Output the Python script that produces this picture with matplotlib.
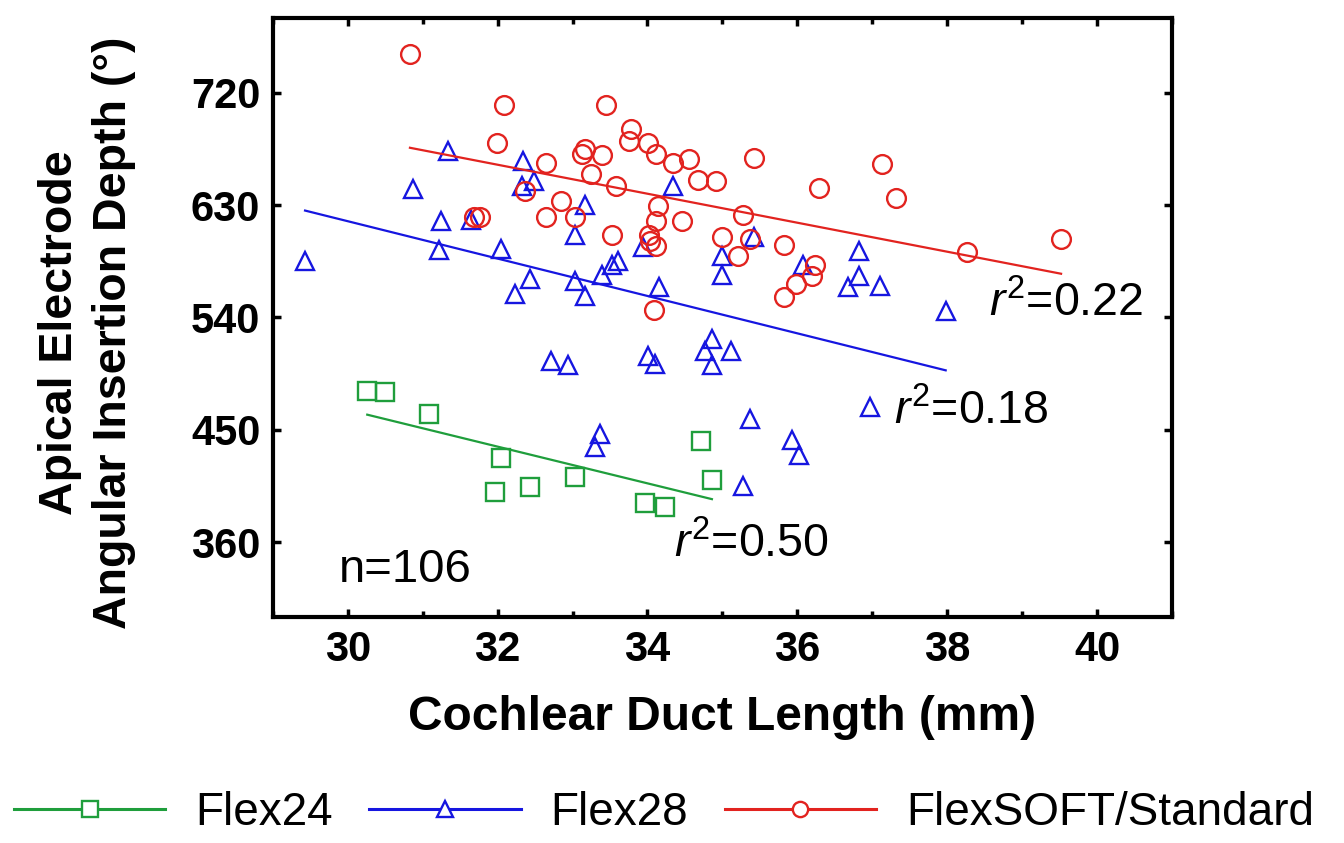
import matplotlib
matplotlib.use("Agg")
import matplotlib.pyplot as plt
from matplotlib.lines import Line2D
from matplotlib.ticker import MultipleLocator
import numpy as np

plt.rcParams["font.family"] = ["Liberation Sans", "DejaVu Sans"]
plt.rcParams["mathtext.fontset"] = "custom"
plt.rcParams["mathtext.rm"] = "Liberation Sans"
plt.rcParams["mathtext.it"] = "Liberation Sans:italic"

C_GREEN = "#1f9e3c"
C_BLUE = "#1616e0"
C_RED = "#e2231f"

# ── data ──
flex24_cdl = [30.26, 30.50, 31.09, 32.05, 31.97, 32.43, 33.03, 33.97, 34.24, 34.71, 34.86]
flex24_aid = [481, 480, 463, 427, 400, 404, 412, 391, 388, 441, 410]

flex28_cdl = [31.34, 32.34, 32.48, 32.33, 30.87, 34.34, 31.25, 31.64, 33.17, 33.03,
              29.43, 31.22, 32.05, 33.94, 32.43, 32.23, 33.03, 33.16, 33.39, 33.53,
              33.60, 34.15, 34.99, 34.99, 35.42, 36.07, 36.82, 36.82, 36.68, 37.10,
              37.98, 32.71, 32.94, 34.01, 34.10, 34.86, 34.77, 34.86, 35.12, 36.97,
              35.37, 35.93, 36.02, 35.28, 33.36, 33.30]
flex28_aid = [673, 665, 649, 645, 643, 645, 617, 618, 630, 606,
              585, 594, 595, 596, 571, 559, 569, 557, 574, 582,
              585, 564, 589, 574, 604, 582, 593, 573, 564, 565,
              545, 505, 502, 509, 503, 523, 513, 502, 513, 468,
              459, 442, 430, 405, 447, 436]

soft_cdl = [30.83, 32.08, 33.44, 31.99, 33.78, 33.75, 34.01, 34.11, 33.16, 33.13,
            33.39, 34.34, 34.56, 32.65, 33.25, 33.58, 34.68, 34.91, 32.36, 32.84,
            34.14, 31.68, 31.77, 32.65, 33.03, 34.11, 34.46, 33.53, 34.02, 34.03,
            34.11, 34.09, 34.99, 35.42, 36.29, 37.13, 37.32, 35.28, 39.52, 38.27,
            35.37, 35.82, 35.21, 36.24, 36.20, 35.98, 35.82]
soft_aid = [751, 710, 710, 680, 691, 681, 680, 671, 675, 671,
            670, 664, 667, 664, 655, 645, 650, 649, 641, 633,
            629, 620, 620, 620, 620, 617, 617, 606, 606, 601,
            597, 546, 604, 668, 644, 663, 636, 622, 603, 592,
            603, 598, 589, 582, 573, 567, 556]

groups = [
    ("Flex24", flex24_cdl, flex24_aid, C_GREEN, "s", 12.5, "0.50"),
    ("Flex28", flex28_cdl, flex28_aid, C_BLUE, "^", 13.5, "0.18"),
    ("FlexSOFT/Standard", soft_cdl, soft_aid, C_RED, "o", 13.5, "0.22"),
]
r2_pos = {"0.50": (34.35, 348), "0.18": (37.29, 454), "0.22": (38.56, 541)}

fig = plt.figure(figsize=(13.44, 8.43), dpi=100)
ax = fig.add_axes([0.203, 0.268, 0.669, 0.711])

handles = []
for name, xs, ys, col, mk, ms, r2 in groups:
    xs = np.asarray(xs)
    ys = np.asarray(ys)
    ax.plot(xs, ys, ls="none", marker=mk, ms=ms, mfc="none", mec=col, mew=1.7)
    # least-squares fit over the group's own range
    k, b = np.polyfit(xs, ys, 1)
    fx = np.array([xs.min(), xs.max()])
    ax.plot(fx, k * fx + b, color=col, lw=1.6)
    tx, ty = r2_pos[r2]
    ax.text(tx, ty, rf"$r^2$={r2}", fontsize=33.5, va="baseline", ha="left")
    handles.append(Line2D([], [], color=col, lw=2.2, marker=mk, ms=11, mfc="white",
                          mec=col, mew=1.7, label=name))

ax.text(29.88, 328, "n=106", fontsize=34, va="baseline", ha="left")

ax.set_xlim(29, 41)
ax.set_ylim(300, 780)
ax.xaxis.set_major_locator(MultipleLocator(2))
ax.xaxis.set_minor_locator(MultipleLocator(1))
ax.set_yticks([360, 450, 540, 630, 720])

for s in ax.spines.values():
    s.set_linewidth(3)
ax.tick_params(which="both", direction="in", top=True, right=True, width=2.5)
ax.tick_params(which="major", length=6, pad=9, labelsize=30)
ax.tick_params(which="minor", length=4)
for lab in ax.get_xticklabels() + ax.get_yticklabels():
    lab.set_fontweight("bold")

ax.set_xlabel("Cochlear Duct Length (mm)", fontsize=34.5, fontweight="bold")
ax.xaxis.set_label_coords(0.5, -0.13)
ax.set_ylabel("Apical Electrode\nAngular Insertion Depth (°)", fontsize=33.5,
              fontweight="bold", linespacing=1.3)
ax.yaxis.set_label_coords(-0.152, 0.475)

fig.legend(handles=handles, loc="center", bbox_to_anchor=(0.494, 0.035), ncol=3,
           frameon=False, fontsize=33, handlelength=3.3, handletextpad=0.65,
           columnspacing=0.8)

fig.savefig("out.png", dpi=100, facecolor="white")
